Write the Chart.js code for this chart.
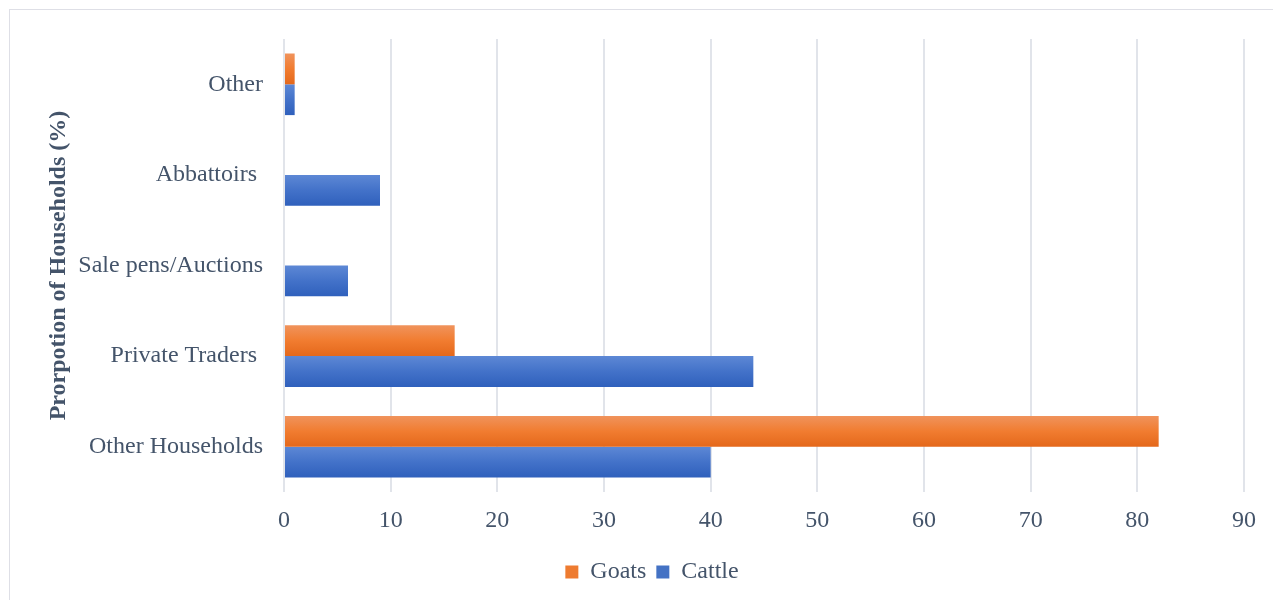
<!DOCTYPE html>
<html>
<head>
<meta charset="utf-8">
<script src="https://cdn.jsdelivr.net/npm/chart.js@4.4.1/dist/chart.umd.min.js"></script>
<style>
  html, body { margin: 0; padding: 0; background: #fff; overflow: hidden; }
  #frame {
    position: absolute; left: 9px; top: 9px;
    width: 1284px; height: 600px;
    border: 1px solid #dedfe6;
  }
  #frame canvas { display: block; }
</style>
</head>
<body>
<div id="frame"><canvas id="marketChart" width="1284" height="600"></canvas></div>
<script>
/* Market outlets for livestock sales, by species */
const outlets = ["Other", "Abbattoirs ", "Sale pens/Auctions", "Private Traders ", "Other Households"];
const goats  = [1, 0, 0, 16, 82];
const cattle = [1, 9, 6, 44, 40];
const xTicks = [0, 10, 20, 30, 40, 50, 60, 70, 80, 90];

const INK = "#44546a";
const FONT = "'Liberation Serif', 'Times New Roman', serif";
const CAT_PCT = 0.68;

// vertical shading per bar, light at the top and darker at the bottom
function barFill(stops, solid) {
  return (c) => {
    const chart = c.chart;
    const y = chart.scales && chart.scales.y;
    if (!chart.chartArea || !y || c.type !== "data") return solid;
    const band = (y.height / outlets.length) * CAT_PCT;
    const center = y.getPixelForValue(c.dataIndex);
    const y0 = center - band / 2 + c.datasetIndex * band / 2;
    const g = chart.ctx.createLinearGradient(0, y0, 0, y0 + band / 2);
    g.addColorStop(0, stops[0]);
    g.addColorStop(0.5, stops[1]);
    g.addColorStop(1, stops[2]);
    return g;
  };
}

const ctx = document.getElementById("marketChart").getContext("2d");

new Chart(ctx, {
  type: "bar",
  data: {
    labels: outlets,
    datasets: [
      {
        label: "Goats",
        data: goats,
        backgroundColor: barFill(["#f0935c", "#f17c30", "#e4681b"], "#ee7b30"),
        legendColor: "#ee7b30",
        borderWidth: 0,
        categoryPercentage: CAT_PCT,
        barPercentage: 1.0
      },
      {
        label: "Cattle",
        data: cattle,
        backgroundColor: barFill(["#5d88d5", "#4372c9", "#2f60bc"], "#4472c4"),
        legendColor: "#4472c4",
        borderWidth: 0,
        categoryPercentage: CAT_PCT,
        barPercentage: 1.0
      }
    ]
  },
  options: {
    indexAxis: "y",
    responsive: false,
    animation: false,
    layout: { padding: { top: 29, left: 50, right: 50, bottom: 16 } },
    plugins: {
      tooltip: { enabled: false },
      legend: {
        position: "bottom",
        labels: {
          boxWidth: 13,
          boxHeight: 13,
          padding: 10,
          color: INK,
          font: { family: FONT, size: 24 },
          generateLabels: (chart) => {
            const items = Chart.defaults.plugins.legend.labels.generateLabels(chart);
            items.forEach((it) => {
              const ds = chart.data.datasets[it.datasetIndex];
              it.fillStyle = ds.legendColor;
              it.strokeStyle = ds.legendColor;
              it.lineWidth = 0;
            });
            return items;
          }
        }
      }
    },
    scales: {
      x: {
        min: 0,
        max: 90,
        afterBuildTicks: (scale) => { scale.ticks = xTicks.map((v) => ({ value: v })); },
        afterFit: (scale) => { scale.height = 58; },
        ticks: {
          color: INK,
          padding: 14,
          font: { family: FONT, size: 24 }
        },
        grid: { color: "#e1e4ea", lineWidth: 2, drawTicks: false },
        border: { display: false }
      },
      y: {
        afterFit: (scale) => {
          scale.width = 224;
          // categories are offset, so the end labels need no extra room
          scale.paddingTop = 0;
          scale.paddingBottom = 0;
        },
        ticks: {
          color: INK,
          padding: 21,
          font: { family: FONT, size: 24 }
        },
        grid: { display: false, drawTicks: false },
        border: { display: false },
        title: {
          display: true,
          text: "Prorpotion of Households (%)",
          color: INK,
          padding: { top: -16, bottom: 0 },
          font: { family: FONT, size: 24, weight: "bold" }
        }
      }
    }
  }
});
</script>
</body>
</html>
